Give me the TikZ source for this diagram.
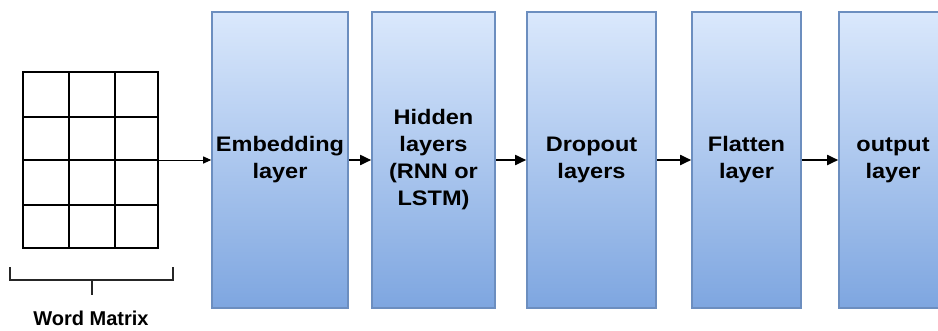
\documentclass[tikz,border=0pt]{standalone}
\usepackage{fontspec}
\setmainfont{Liberation Sans}
\newfontfamily\boxfont[FakeStretch=1.12]{Liberation Sans}
\usetikzlibrary{arrows.meta}
\definecolor{boxtop}{HTML}{DAE8FC}
\definecolor{boxbot}{HTML}{7EA6E0}
\definecolor{boxline}{HTML}{6C8EBF}
\begin{document}
\begin{tikzpicture}[x=1pt,y=-1pt,
  layerbox/.style={rectangle, draw=boxline, line width=1.6pt, top color=boxtop, bottom color=boxbot,
    minimum height=296pt, inner sep=0pt, align=center,
    font=\boxfont\bfseries\fontsize{21}{27}\selectfont},
  flowarrow/.style={line width=1.8pt, -{Triangle[length=11pt,width=10pt]}},
  gridline/.style={line width=1.8pt, black}]
\clip (0,0) rectangle (938,330);
\fill[white] (0,0) rectangle (938,330);
% word matrix grid
\draw[gridline] (23,72) rectangle (158,248);
\foreach \x in {69,115} \draw[gridline] (\x,72) -- (\x,248);
\foreach \y in {117,160,205} \draw[gridline] (23,\y) -- (158,\y);
\coordinate (gridout) at (158,160);
% bracket
\draw[line width=1.8pt, black!85] (10,267) -- (10,280) -- (173,280) -- (173,267);
\draw[line width=1.8pt, black!85] (92,280) -- (92,295);
\node[font=\bfseries\fontsize{20}{24}\selectfont, anchor=base, inner sep=0pt] (wm) at (91,325) {Word Matrix};
% layer boxes
\node[layerbox, minimum width=136pt] (emb) at (280,160) {Embedding\\layer};
\node[layerbox, minimum width=123pt] (hid) at (433.5,160) {Hidden\\layers\\(RNN or\\LSTM)};
\node[layerbox, minimum width=129pt] (drop) at (591.5,160) {Dropout\\layers};
\node[layerbox, minimum width=109pt] (flat) at (746.5,160) {Flatten\\layer};
\node[layerbox, minimum width=108pt] (outl) at (893,160) {output\\layer};
% arrows
\draw[line width=1pt, -{Triangle[length=8pt,width=7pt]}] (gridout) -- (emb.west);
\draw[flowarrow] (emb.east) -- (hid.west);
\draw[flowarrow] (hid.east) -- (drop.west);
\draw[flowarrow] (drop.east) -- (flat.west);
\draw[flowarrow] (flat.east) -- (outl.west);
\end{tikzpicture}
\end{document}
